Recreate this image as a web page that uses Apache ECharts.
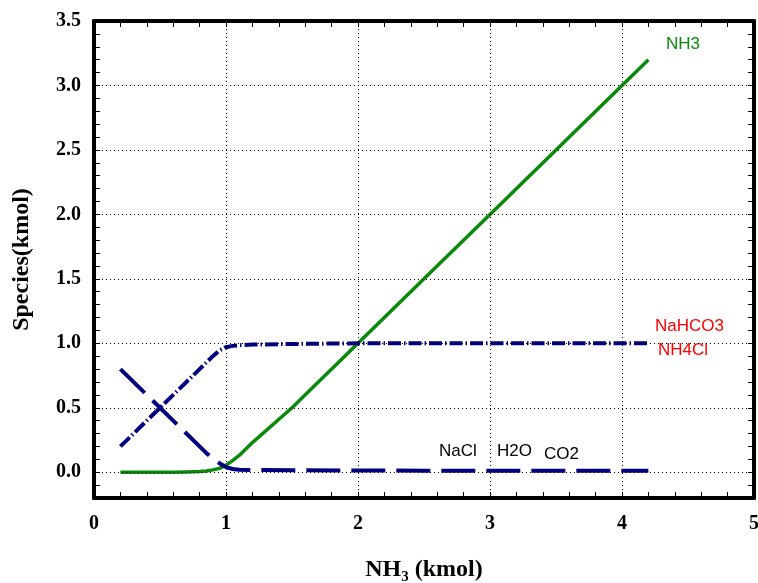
<!DOCTYPE html>
<html>
<head>
<meta charset="utf-8">
<title>Species vs NH3</title>
<script src="https://cdn.jsdelivr.net/npm/echarts@6/dist/echarts.min.js"></script>
<style>
  html, body { margin: 0; padding: 0; background: #fff; }
  #chart { width: 758px; height: 583px; }
</style>
</head>
<body>
<div id="chart"></div>
<script>
// NH3 feed (kmol) at which species amounts were computed
const nh3Feed = [0.2, 0.4, 0.6, 0.7, 0.8, 0.85, 0.9, 0.95, 1.0, 1.05, 1.1, 1.2, 1.5, 2.0, 2.5, 3.0, 3.5, 4.0, 4.2];

// Free NH3 left in the product (kmol)
const nh3Free = [0.0, 0.0, 0.0, 0.002, 0.005, 0.01, 0.018, 0.03, 0.055, 0.09, 0.13, 0.23, 0.5, 1.0, 1.5, 2.0, 2.5, 3.0, 3.2];

// NaCl, H2O and CO2 remaining (kmol) – the three curves coincide
const reactantsLeft = [0.8, 0.6, 0.4, 0.3, 0.2, 0.15, 0.105, 0.07, 0.04, 0.025, 0.02, 0.017, 0.015, 0.013, 0.012, 0.012, 0.012, 0.012, 0.012];

// NaHCO3 and NH4Cl formed (kmol) – the two curves coincide
const productsFormed = [0.2, 0.4, 0.6, 0.7, 0.8, 0.85, 0.9, 0.945, 0.97, 0.98, 0.985, 0.99, 0.995, 1.0, 1.0, 1.0, 1.0, 1.0, 1.0];

// Axis tick values with gridlines and labels
const xLabelTicks = [0, 1, 2, 3, 4, 5];
const yLabelTicks = [0.0, 0.5, 1.0, 1.5, 2.0, 2.5, 3.0, 3.5];
const xGridTicks = [1, 2, 3, 4];
const yGridTicks = [0.0, 0.5, 1.0, 1.5, 2.0, 2.5, 3.0];

const pairs = (xs, ys) => xs.map((x, i) => [x, ys[i]]);
const near = (v, list) => list.some(t => Math.abs(v - t) < 1e-6);

const serif = '"Liberation Serif", "Times New Roman", serif';
const sans = '"Liberation Sans", Arial, sans-serif';
const navy = '#000080';
const green = '#0a8a0a';

const chart = echarts.init(document.getElementById('chart'), null, { renderer: 'canvas' });

const frameLine = { show: true, onZero: false, lineStyle: { color: '#000', width: 4 } };
const innerTick = { show: true, inside: true, length: 6, lineStyle: { color: '#000', width: 1 } };

chart.setOption({
  animation: false,
  backgroundColor: '#fff',
  grid: { left: 94, top: 21, width: 660, height: 477, containLabel: false, outerBoundsMode: 'none' },
  xAxis: [
    {
      type: 'value', min: 0, max: 5, interval: 0.2, position: 'bottom',
      axisLine: frameLine, axisTick: innerTick, splitLine: { show: false },
      axisLabel: {
        margin: 16, color: '#000', fontFamily: serif, fontWeight: 'bold', fontSize: 20,
        formatter: v => near(v, xLabelTicks) ? String(Math.round(v)) : ''
      },
      name: '{a|NH}{b|3}{a| (kmol)}', nameLocation: 'middle', nameGap: 57,
      nameTextStyle: {
        rich: {
          a: { fontFamily: serif, fontWeight: 'bold', fontSize: 24, color: '#000', lineHeight: 30 },
          b: { fontFamily: serif, fontWeight: 'bold', fontSize: 15, color: '#000', lineHeight: 30, padding: [14, 0, 0, 0] }
        }
      }
    },
    {
      type: 'value', min: 0, max: 5, interval: 0.2, position: 'top',
      axisLine: frameLine, axisTick: innerTick, axisLabel: { show: false }, splitLine: { show: false }
    }
  ],
  yAxis: [
    {
      type: 'value', min: -0.2, max: 3.5, interval: 0.1, position: 'left',
      axisLine: frameLine, axisTick: innerTick, splitLine: { show: false },
      axisLabel: {
        margin: 13, color: '#000', fontFamily: serif, fontWeight: 'bold', fontSize: 20,
        formatter: v => near(v, yLabelTicks) ? v.toFixed(1) : ''
      },
      name: 'Species(kmol)', nameLocation: 'middle', nameGap: 60, nameRotate: 90,
      nameTextStyle: { fontFamily: serif, fontWeight: 'bold', fontSize: 24, color: '#000' }
    },
    {
      type: 'value', min: -0.2, max: 3.5, interval: 0.1, position: 'right',
      axisLine: frameLine, axisTick: innerTick, axisLabel: { show: false }, splitLine: { show: false }
    }
  ],
  series: [
    {
      // dotted gridlines beneath the curves
      type: 'line', name: 'grid', data: [], z: 1, silent: true,
      markLine: {
        silent: true, symbol: 'none', animation: false,
        label: { show: false },
        lineStyle: { color: '#000', width: 1, type: [1, 3] },
        data: xGridTicks.map(v => ({ xAxis: v })).concat(yGridTicks.map(v => ({ yAxis: v })))
      }
    },
    {
      type: 'line', name: 'NH3', data: pairs(nh3Feed, nh3Free), showSymbol: false, z: 3,
      lineStyle: { color: green, width: 3.5, join: 'round' }
    },
    {
      type: 'line', name: 'NaCl / H2O / CO2', data: pairs(nh3Feed, reactantsLeft), showSymbol: false, z: 4,
      lineStyle: { color: navy, width: 4, type: [34, 11], join: 'round' }
    },
    {
      type: 'line', name: 'NaHCO3 / NH4Cl', data: pairs(nh3Feed, productsFormed), showSymbol: false, z: 4,
      lineStyle: { color: navy, width: 4, type: [13, 3, 1.5, 3], join: 'round' }
    }
  ],
  graphic: [
    { type: 'text', left: 666, top: 36, style: { text: 'NH3', fill: green, font: '17px ' + sans } },
    { type: 'text', left: 655, top: 318, style: { text: 'NaHCO3', fill: '#ff0000', font: '17px ' + sans } },
    { type: 'text', left: 658, top: 342, style: { text: 'NH4Cl', fill: '#ff0000', font: '17px ' + sans } },
    { type: 'text', left: 439, top: 443, style: { text: 'NaCl', fill: '#000', font: '17px ' + sans } },
    { type: 'text', left: 497, top: 443, style: { text: 'H2O', fill: '#000', font: '17px ' + sans } },
    { type: 'text', left: 544, top: 446, style: { text: 'CO2', fill: '#000', font: '17px ' + sans } }
  ]
});
</script>
</body>
</html>
